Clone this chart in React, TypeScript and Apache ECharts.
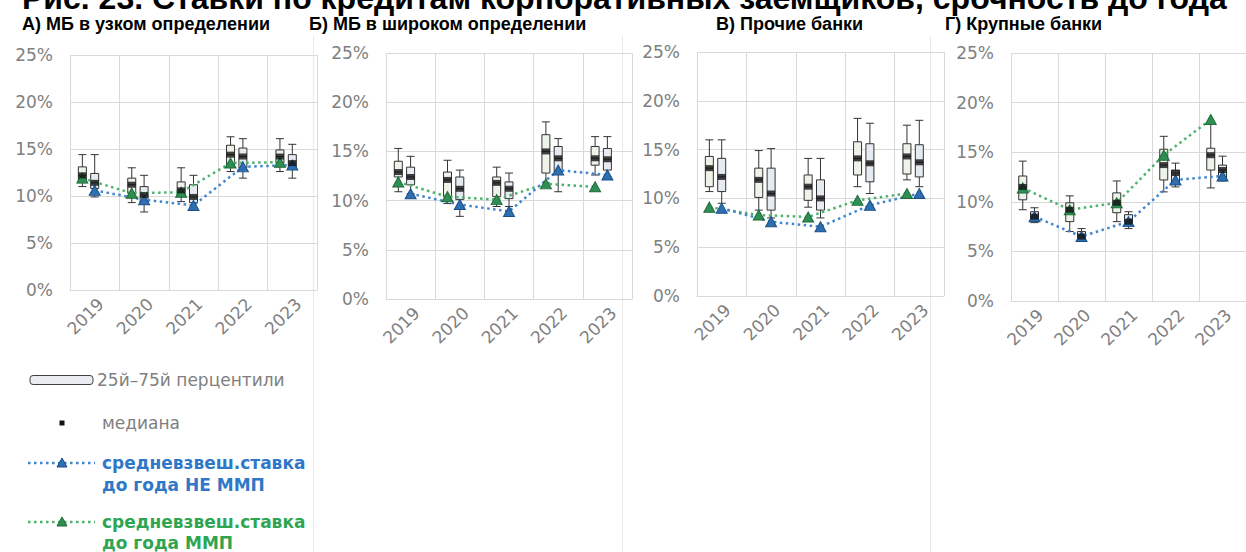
import React, { useEffect, useRef } from 'react';
import * as echarts from 'echarts';

const years = ['2019', '2020', '2021', '2022', '2023'];
const yMin = 0;
const yMax = 25;
const yStep = 5;

const mainTitle = 'Рис. 23. Ставки по кредитам корпоративных заемщиков, срочность до года';
const panelTitles = [
  'А) МБ в узком определении',
  'Б) МБ в широком определении',
  'В) Прочие банки',
  'Г) Крупные банки',
];

// boxes: [min, Q1, median, Q3, max], %
// left box of each year (ММП), right box (НЕ ММП)
const aBoxMMP = [[11.0, 11.7, 12.2, 13.1, 14.4], [9.3, 10.3, 11.2, 11.9, 13.0], [9.4, 10.1, 10.6, 11.5, 13.0], [12.6, 13.3, 14.4, 15.4, 16.3], [12.6, 13.5, 14.2, 14.9, 16.1]];
const aBoxNon = [[9.9, 10.8, 11.4, 12.4, 14.4], [8.3, 9.3, 10.1, 11.0, 12.2], [8.8, 9.3, 9.9, 11.2, 12.2], [11.9, 13.0, 14.2, 15.1, 16.1], [11.9, 13.0, 13.5, 14.4, 15.5]];
const aAvgMMP = [11.9, 10.3, 10.4, 13.5, 13.6];
const aAvgNon = [10.6, 9.6, 9.0, 13.1, 13.3];

const bBoxMMP = [[10.9, 12.4, 12.9, 14.0, 15.3], [9.7, 10.4, 12.1, 12.9, 14.1], [9.4, 10.4, 11.8, 12.4, 13.4], [11.8, 12.8, 15.0, 16.7, 18.0], [12.6, 13.6, 14.3, 15.5, 16.5]];
const bBoxNon = [[10.7, 11.6, 12.4, 13.4, 14.5], [8.4, 10.1, 11.2, 12.4, 13.1], [9.4, 10.2, 11.2, 11.9, 12.8], [10.9, 12.9, 14.3, 15.5, 16.3], [12.4, 13.1, 14.2, 15.3, 16.5]];
const bAvgMMP = [11.9, 10.4, 10.1, 11.7, 11.4];
const bAvgNon = [10.7, 9.6, 8.9, 13.1, 12.6];

const cBoxMMP = [[10.7, 11.2, 13.1, 14.3, 16.0], [8.8, 10.1, 11.9, 13.1, 14.9], [9.1, 9.8, 11.2, 12.4, 14.1], [11.2, 12.4, 14.1, 15.8, 18.2], [11.9, 12.5, 14.3, 15.6, 17.5]];
const cBoxNon = [[9.5, 10.7, 12.2, 14.1, 16.0], [8.0, 8.8, 10.5, 13.1, 15.1], [8.0, 8.8, 10.0, 11.9, 14.1], [10.5, 11.7, 13.6, 15.6, 17.7], [11.2, 12.2, 13.7, 15.5, 18.0]];
const cAvgMMP = [9.1, 8.3, 8.1, 9.8, 10.5];
const cAvgNon = [9.0, 7.6, 7.1, 9.3, 10.5];

const dBoxMMP = [[9.2, 10.2, 11.5, 12.6, 14.1], [7.0, 8.0, 9.2, 9.9, 10.6], [8.0, 8.9, 9.9, 10.9, 12.1], [11.0, 12.2, 13.7, 15.3, 16.6], [11.4, 13.2, 14.7, 15.4, 17.8]];
const dBoxNon = [[7.9, 8.0, 8.5, 9.0, 9.4], [6.2, 6.4, 6.5, 7.0, 7.3], [7.3, 7.7, 8.0, 8.7, 9.0], [11.5, 11.9, 12.9, 13.2, 13.9], [12.1, 12.4, 13.2, 13.7, 14.6]];
const dAvgMMP = [11.4, 9.2, 9.9, 14.7, 18.3];
const dAvgNon = [8.5, 6.5, 8.0, 12.2, 12.6];

const legendTexts = {
  box: '25й–75й перцентили',
  median: 'медиана',
  non1: 'средневзвеш.ставка',
  non2: 'до года НЕ ММП',
  mmp1: 'средневзвеш.ставка',
  mmp2: 'до года ММП',
};

const panels = [
  { boxMMP: aBoxMMP, boxNon: aBoxNon, avgMMP: aAvgMMP, avgNon: aAvgNon },
  { boxMMP: bBoxMMP, boxNon: bBoxNon, avgMMP: bAvgMMP, avgNon: bAvgNon },
  { boxMMP: cBoxMMP, boxNon: cBoxNon, avgMMP: cAvgMMP, avgNon: cAvgNon },
  { boxMMP: dBoxMMP, boxNon: dBoxNon, avgMMP: dAvgMMP, avgNon: dAvgNon },
];

const gridLayout = [
  { left: 70, top: 55, width: 247, height: 235 },
  { left: 386, top: 53, width: 246, height: 246 },
  { left: 697, top: 52, width: 247, height: 244 },
  { left: 1011, top: 53, width: 245, height: 248 },
];
const titleX = [22, 309, 716, 945];

const OFF = 0.25;
const GRID_C = '#d9d9d9';
const LABEL_C = '#808080';
const BLUE_LINE = '#3f86cf';
const BLUE_TRI = '#2d6fb3';
const GREEN_LINE = '#4db26b';
const GREEN_TRI = '#2f8f52';
const BLUE_TXT = '#2f78c8';
const GREEN_TXT = '#2fa552';

export default function App() {
  const ref = useRef<HTMLDivElement>(null);

  useEffect(() => {
    if (!ref.current) return;
    const chart = echarts.init(ref.current, undefined, { renderer: 'svg' });

    const grid: any[] = [];
    const xAxis: any[] = [];
    const yAxis: any[] = [];
    const series: any[] = [];

    panels.forEach((p, g) => {
      grid.push({ ...gridLayout[g], containLabel: false });
      xAxis.push({
        type: 'category',
        gridIndex: g,
        data: years,
        boundaryGap: true,
        axisLine: { show: true, lineStyle: { color: GRID_C, width: 1 } },
        axisTick: { show: false },
        splitLine: { show: true, lineStyle: { color: GRID_C, width: 1 } },
        axisLabel: {
          interval: 0,
          rotate: 45,
          verticalAlign: 'top',
          margin: 5,
          color: LABEL_C,
          fontSize: 17,
          fontFamily: 'DejaVu Sans',
        },
      });
      xAxis.push({
        type: 'value',
        gridIndex: g,
        min: -0.5,
        max: 4.5,
        show: false,
        splitLine: { show: false },
      });
      yAxis.push({
        type: 'value',
        gridIndex: g,
        min: yMin,
        max: yMax,
        interval: yStep,
        axisLine: { show: false },
        axisTick: { show: false },
        splitLine: { show: true, lineStyle: { color: GRID_C, width: 1 } },
        axisLabel: {
          formatter: '{value}%',
          color: LABEL_C,
          fontSize: 17,
          fontFamily: 'DejaVu Sans',
          margin: 17,
        },
      });

      const cx = 2 * g;
      const vx = 2 * g + 1;

      series.push({
        type: 'boxplot',
        xAxisIndex: vx,
        yAxisIndex: g,
        boxWidth: [8, 8],
        itemStyle: { color: '#eef3ea', borderColor: '#333333', borderWidth: 1 },
        data: p.boxMMP.map((b, i) => [i - OFF, ...b]),
        z: 2,
      });
      series.push({
        type: 'boxplot',
        xAxisIndex: cx,
        yAxisIndex: g,
        boxWidth: [8, 8],
        itemStyle: { color: '#e6ebf2', borderColor: '#333333', borderWidth: 1 },
        data: p.boxNon,
        z: 2,
      });
      series.push({
        type: 'line',
        xAxisIndex: vx,
        yAxisIndex: g,
        data: p.avgMMP.map((v, i) => [i - OFF, v]),
        symbol: 'triangle',
        symbolSize: [11, 10],
        showSymbol: true,
        showAllSymbol: true,
        lineStyle: { color: GREEN_LINE, width: 2.5, type: [2.5, 3.5] },
        itemStyle: { color: GREEN_TRI, borderColor: '#1f6b3a', borderWidth: 1 },
        z: 3,
      });
      series.push({
        type: 'line',
        xAxisIndex: cx,
        yAxisIndex: g,
        data: p.avgNon,
        symbol: 'triangle',
        symbolSize: [11, 10],
        showSymbol: true,
        showAllSymbol: true,
        lineStyle: { color: BLUE_LINE, width: 2.5, type: [2.5, 3.5] },
        itemStyle: { color: BLUE_TRI, borderColor: '#1d4f86', borderWidth: 1 },
        z: 3,
      });
      series.push({
        type: 'scatter',
        xAxisIndex: vx,
        yAxisIndex: g,
        data: p.boxMMP.map((b, i) => [i - OFF, b[2]]),
        symbol: 'rect',
        symbolSize: [8, 6],
        itemStyle: { color: '#111111' },
        z: 4,
      });
      series.push({
        type: 'scatter',
        xAxisIndex: cx,
        yAxisIndex: g,
        data: p.boxNon.map((b) => b[2]),
        symbol: 'rect',
        symbolSize: [8, 6],
        itemStyle: { color: '#111111' },
        z: 4,
      });
    });

    const graphic: any[] = [
      {
        type: 'text',
        x: 22,
        y: -2,
        style: {
          text: mainTitle,
          fill: '#000',
          fontSize: 32,
          fontWeight: 'bold',
          fontFamily: 'Liberation Sans',
          verticalAlign: 'middle',
        },
      },
      ...panelTitles.map((t, i) => ({
        type: 'text',
        x: titleX[i],
        y: 24,
        style: {
          text: t,
          fill: '#000',
          fontSize: 18,
          fontWeight: 'bold',
          fontFamily: 'Liberation Sans',
          verticalAlign: 'middle',
        },
      })),
      ...[313.5, 622.5, 930.5].map((x) => ({
        type: 'line',
        shape: { x1: x, y1: 36, x2: x, y2: 552 },
        style: { stroke: '#e8e8e8', lineWidth: 1 },
      })),
      // legend
      {
        type: 'rect',
        shape: { x: 30, y: 375.5, width: 63, height: 9, r: 3 },
        style: { fill: '#e9ecf1', stroke: '#404040', lineWidth: 1 },
      },
      {
        type: 'text',
        x: 97,
        y: 380,
        style: { text: legendTexts.box, fill: LABEL_C, fontSize: 17, fontFamily: 'DejaVu Sans', verticalAlign: 'middle' },
      },
      {
        type: 'rect',
        shape: { x: 59.5, y: 420.5, width: 5, height: 5 },
        style: { fill: '#111' },
      },
      {
        type: 'text',
        x: 102,
        y: 423,
        style: { text: legendTexts.median, fill: LABEL_C, fontSize: 17, fontFamily: 'DejaVu Sans', verticalAlign: 'middle' },
      },
      {
        type: 'line',
        shape: { x1: 28, y1: 463, x2: 95, y2: 463 },
        style: { stroke: BLUE_LINE, lineWidth: 2.5, lineDash: [2.5, 3.5] },
      },
      {
        type: 'polygon',
        shape: { points: [[62, 458], [57, 467], [67, 467]] },
        style: { fill: BLUE_TRI, stroke: '#1d4f86', lineWidth: 1 },
      },
      {
        type: 'text',
        x: 102,
        y: 463,
        style: { text: legendTexts.non1, fill: BLUE_TXT, fontSize: 17, fontWeight: 'bold', fontFamily: 'DejaVu Sans', verticalAlign: 'middle' },
      },
      {
        type: 'text',
        x: 102,
        y: 485,
        style: { text: legendTexts.non2, fill: BLUE_TXT, fontSize: 17, fontWeight: 'bold', fontFamily: 'DejaVu Sans', verticalAlign: 'middle' },
      },
      {
        type: 'line',
        shape: { x1: 28, y1: 522, x2: 95, y2: 522 },
        style: { stroke: GREEN_LINE, lineWidth: 2.5, lineDash: [2.5, 3.5] },
      },
      {
        type: 'polygon',
        shape: { points: [[62, 517], [57, 526], [67, 526]] },
        style: { fill: GREEN_TRI, stroke: '#1f6b3a', lineWidth: 1 },
      },
      {
        type: 'text',
        x: 102,
        y: 522,
        style: { text: legendTexts.mmp1, fill: GREEN_TXT, fontSize: 17, fontWeight: 'bold', fontFamily: 'DejaVu Sans', verticalAlign: 'middle' },
      },
      {
        type: 'text',
        x: 102,
        y: 543,
        style: { text: legendTexts.mmp2, fill: GREEN_TXT, fontSize: 17, fontWeight: 'bold', fontFamily: 'DejaVu Sans', verticalAlign: 'middle' },
      },
    ];

    chart.setOption({
      animation: false,
      backgroundColor: '#ffffff',
      grid,
      xAxis,
      yAxis,
      series,
      graphic,
    });

    return () => {
      chart.dispose();
    };
  }, []);

  return (
    <div
      ref={ref}
      style={{ position: 'absolute', left: 0, top: 0, width: 1246, height: 552 }}
    />
  );
}
